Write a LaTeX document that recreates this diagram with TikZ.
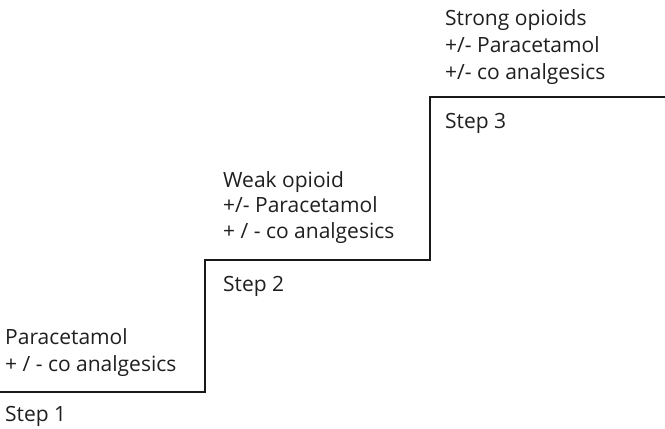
\documentclass[tikz,border=0pt]{standalone}
\usepackage{fontspec}
\setmainfont{Open Sans}
\begin{document}
\begin{tikzpicture}[x=1pt,y=1pt,
  lbl/.style={anchor=base west,inner sep=0pt,font=\fontsize{21}{25}\selectfont,text=black!88},
  stair/.style={line width=2pt,black!90}]
\useasboundingbox (0,0) rectangle (665,429);
\coordinate (s0) at (0,37);
\coordinate (s1) at (205,37);
\coordinate (s2) at (205,169);
\coordinate (s3) at (430,169);
\coordinate (s4) at (430,332);
\coordinate (s5) at (665,332);
\draw[stair] (s0) -- (s1) -- (s2) -- (s3) -- (s4) -- (s5);
% step 1
\node[lbl] (p1) at (5,84) {Paracetamol};
\node[lbl] (p2) at (5,57) {+ / - co analgesics};
\node[lbl] (st1) at (5,7) {Step 1};
% step 2
\node[lbl] (w1) at (223,241) {Weak opioid};
\node[lbl] (w2) at (223,216) {+/- Paracetamol};
\node[lbl] (w3) at (223,190) {+ / - co analgesics};
\node[lbl] (st2) at (223,137) {Step 2};
% step 3
\node[lbl] (o1) at (445,403) {Strong opioids};
\node[lbl] (o2) at (445,376) {+/- Paracetamol};
\node[lbl] (o3) at (445,349) {+/- co analgesics};
\node[lbl] (st3) at (445,300) {Step 3};
\end{tikzpicture}
\end{document}
